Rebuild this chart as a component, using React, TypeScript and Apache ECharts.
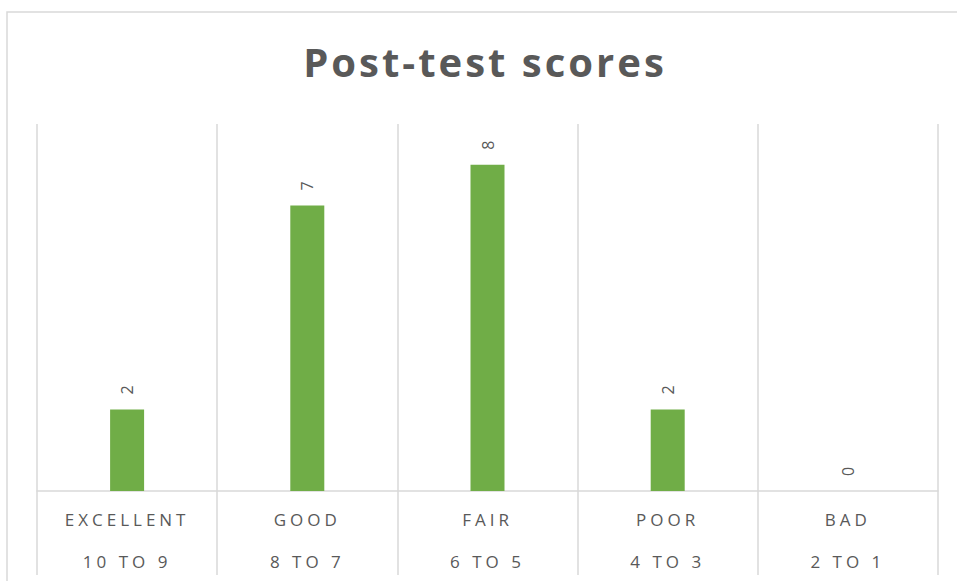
import React, { useEffect, useRef } from "react";
import * as echarts from "echarts";

const titleText = "Post-test scores";
const levels = ["EXCELLENT", "GOOD", "FAIR", "POOR", "BAD"];
const ranges = ["10 TO 9", "8 TO 7", "6 TO 5", "4 TO 3", "2 TO 1"];
const counts = [2, 7, 8, 2, 0];
const yMin = 0;
const yMax = 9;

const GREY = "#595959";
const LINE = "#d9d9d9";
const FONT = "'Open Sans', 'Noto Sans', sans-serif";

export default function App() {
  const ref = useRef<HTMLDivElement>(null);

  useEffect(() => {
    if (!ref.current) return;
    const chart = echarts.init(ref.current, null, { renderer: "svg" });
    chart.setOption({
      animation: false,
      backgroundColor: "#ffffff",
      title: {
        text: titleText,
        left: 480,
        top: 36,
        textAlign: "center",
        textStyle: { fontFamily: FONT, fontSize: 40, fontWeight: "bold", color: GREY },
      },
      graphic: [
        {
          type: "rect",
          shape: { x: 7, y: 12, width: 1000, height: 620 },
          style: { fill: "none", stroke: LINE, lineWidth: 1.5 },
          silent: true,
          z: -1,
        },
      ],
      grid: { left: 37, right: 19, top: 124, bottom: 90, containLabel: false },
      xAxis: {
        type: "category",
        data: levels,
        boundaryGap: true,
        axisLine: { show: true, lineStyle: { color: LINE, width: 1.5 } },
        axisTick: { show: true, length: 84, interval: 0, lineStyle: { color: LINE, width: 1.5 } },
        splitLine: { show: true, interval: 0, lineStyle: { color: LINE, width: 1.5 } },
        axisLabel: {
          interval: 0,
          margin: 7,
          formatter: (v: string, i: number) => `{a|${v}}\n{b|${ranges[i]}}`,
          rich: {
            a: { fontFamily: FONT, fontSize: 17, color: GREY, lineHeight: 42 },
            b: { fontFamily: FONT, fontSize: 17, color: GREY, lineHeight: 42 },
          },
        },
      },
      yAxis: {
        type: "value",
        min: yMin,
        max: yMax,
        show: false,
        splitLine: { show: false },
      },
      series: [
        {
          type: "bar",
          data: counts,
          barWidth: 34,
          itemStyle: { color: "#70ad47" },
          label: {
            show: true,
            position: "top",
            rotate: 90,
            align: "left",
            verticalAlign: "middle",
            distance: 15,
            fontFamily: FONT,
            fontSize: 16,
            color: GREY,
          },
        },
      ],
    });

    const spaced = new Set([...levels, ...ranges]);
    const apply = () => {
      if (!ref.current) return;
      ref.current.querySelectorAll("text").forEach((node) => {
        const el = node as SVGElement;
        const s = (el.textContent || "").trim();
        if (spaced.has(s)) {
          el.style.letterSpacing = "4px";
        } else if (s === titleText) {
          el.style.letterSpacing = "3px";
        }
      });
    };
    apply();
    chart.on("finished", apply);

    return () => {
      chart.dispose();
    };
  }, []);

  return (
    <div
      ref={ref}
      style={{ position: "fixed", left: 0, top: 0, width: 957, height: 581, background: "#fff" }}
    />
  );
}
